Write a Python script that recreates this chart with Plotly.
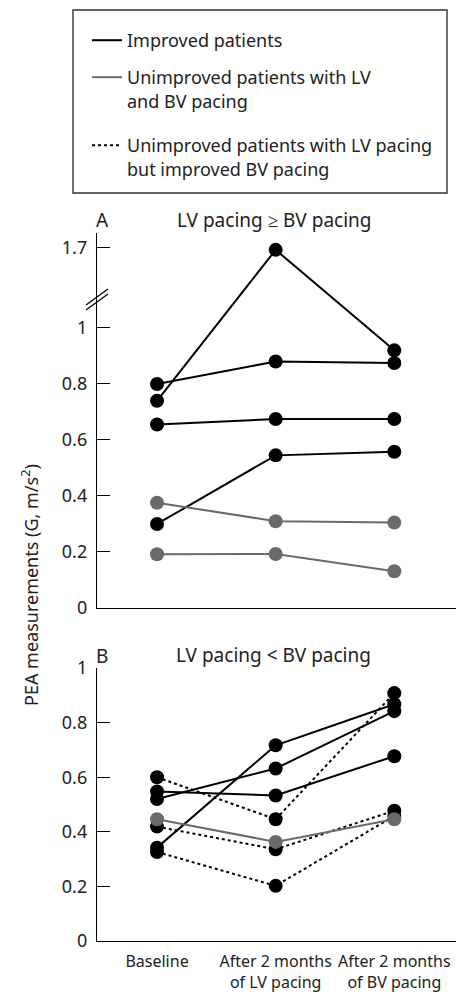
import plotly.graph_objects as go

# ---------------- data ----------------
categories = ["Baseline", "After 2 months<br>of LV pacing", "After 2 months<br>of BV pacing"]
x_pos = [0, 1, 2]

# Panel A: LV pacing >= BV pacing
a_improved = [
    [0.74, 1.68, 0.92],
    [0.80, 0.88, 0.875],
    [0.655, 0.675, 0.675],
    [0.30, 0.545, 0.558],
]
a_unimproved = [
    [0.376, 0.31, 0.305],
    [0.192, 0.193, 0.131],
]

# Panel B: LV pacing < BV pacing
b_improved = [
    [0.342, 0.717, 0.867],
    [0.52, 0.632, 0.842],
    [0.548, 0.533, 0.677],
]
b_mixed = [
    [0.60, 0.446, 0.908],
    [0.419, 0.336, 0.477],
    [0.326, 0.202, 0.458],
]
b_unimproved = [
    [0.446, 0.363, 0.446],
]

a_ticks = [0, 0.2, 0.4, 0.6, 0.8, 1, 1.7]
a_ticktext = ["0", "0.2", "0.4", "0.6", "0.8", "1", "1.7"]
b_ticks = [0, 0.2, 0.4, 0.6, 0.8, 1]
b_ticktext = ["0", "0.2", "0.4", "0.6", "0.8", "1"]

legend_names = [
    "Improved patients",
    "Unimproved patients with LV<br>and BV pacing",
    "Unimproved patients with LV pacing<br>but improved BV pacing",
]

# ---------------- styling ----------------
FONT = "Noto Sans"
TXT = "#222222"
BLACK = "#000000"
GRAY = "#6a6a6a"
FS = 18

# broken-axis scale for panel A (values above 1 are compressed)
BREAK_FACTOR = 0.41


def brk(v):
    return v if v <= 1 else 1 + (v - 1) * BREAK_FACTOR


W, H = 456, 992
ML = 97


def py(pix):
    return 1 - pix / H


def px(pix):
    return (pix - ML) / (W - ML)


fig = go.Figure()


def add_series(rows, xa, ya, color, dash, transform=lambda v: v):
    for r in rows:
        fig.add_trace(go.Scatter(
            x=x_pos, y=[transform(v) for v in r], xaxis=xa, yaxis=ya,
            mode="lines+markers",
            line=dict(color=color, width=2, dash=dash),
            marker=dict(color=color, size=14, line=dict(width=0)),
            showlegend=False, hoverinfo="skip",
        ))


add_series(a_improved, "x", "y", BLACK, "solid", brk)
add_series(a_unimproved, "x", "y", GRAY, "solid", brk)
add_series(b_improved, "x2", "y2", BLACK, "solid")
add_series(b_mixed, "x2", "y2", BLACK, "dot")
add_series(b_unimproved, "x2", "y2", GRAY, "solid")

# legend-only entries, each in its own legend box for exact placement
legend_ids = ["legend", "legend2", "legend3"]
legend_tops = [22, 59, 127]
for name, color, dash, lid in zip(legend_names, [BLACK, GRAY, BLACK],
                                  ["solid", "solid", "dot"], legend_ids):
    fig.add_trace(go.Scatter(
        x=[None], y=[None], mode="lines", name=name, legend=lid,
        line=dict(color=color, width=2, dash=dash), showlegend=True,
    ))

axis_common = dict(
    showline=True, linecolor=BLACK, linewidth=1.4, showgrid=False, zeroline=False,
)

legend_style = dict(
    xanchor="left", yanchor="top", borderwidth=0, bgcolor="rgba(0,0,0,0)",
    font=dict(family=FONT, size=FS, color=TXT), itemwidth=30, valign="top",
)

fig.update_layout(
    template="none",
    width=W, height=H,
    margin=dict(l=ML, r=0, t=0, b=0, autoexpand=False),
    paper_bgcolor="white", plot_bgcolor="white",
    font=dict(family=FONT, size=FS, color=TXT),
    xaxis=dict(domain=[0, 1], range=[-0.506, 2.52], anchor="y",
               showticklabels=False, ticks="", **axis_common),
    yaxis=dict(domain=[py(608), py(233)], range=[0, brk(1.0) + 0.339], anchor="x",
               tickvals=[brk(v) for v in a_ticks], ticktext=a_ticktext,
               ticks="inside", ticklen=13, tickwidth=1.4, tickcolor=BLACK,
               ticklabelstandoff=5, **axis_common),
    xaxis2=dict(domain=[0, 1], range=[-0.506, 2.52], anchor="y2",
                tickvals=x_pos, ticktext=categories, ticks="",
                tickfont=dict(size=16), ticklabelstandoff=6, **axis_common),
    yaxis2=dict(domain=[py(941), py(668)], range=[0, 1], anchor="x2",
                tickvals=b_ticks, ticktext=b_ticktext,
                ticks="inside", ticklen=13, tickwidth=1.4, tickcolor=BLACK,
                ticklabelstandoff=5, **axis_common),
    legend=dict(x=px(87), y=py(legend_tops[0]), **legend_style),
    legend2=dict(x=px(87), y=py(legend_tops[1]), **legend_style),
    legend3=dict(x=px(87), y=py(legend_tops[2]), **legend_style),
    showlegend=True,
)

# legend frame
fig.add_shape(type="rect", xref="paper", yref="paper",
              x0=px(73), x1=px(447), y0=py(193), y1=py(10),
              line=dict(color="#333333", width=1.4), layer="below")

# panel labels and titles
annos = [
    dict(text="A", x=px(102), y=py(220)),
    dict(text="LV pacing \u2265 BV pacing", x=px(274), y=py(220)),
    dict(text="B", x=px(102), y=py(656)),
    dict(text="LV pacing &lt; BV pacing", x=px(273), y=py(655)),
]
for a in annos:
    fig.add_annotation(xref="paper", yref="paper", showarrow=False,
                       xanchor="center", yanchor="middle",
                       font=dict(family=FONT, size=19, color=TXT), **a)

fig.add_annotation(
    text="PEA measurements (G, m/s<sup>2</sup>)", xref="paper", yref="paper",
    x=px(30), y=py(585), textangle=-90, showarrow=False,
    xanchor="center", yanchor="middle", font=dict(family=FONT, size=FS, color=TXT),
)

# axis break marks on panel A
for off in (0, 5):
    fig.add_shape(type="line", xref="paper", yref="paper",
                  x0=px(86), x1=px(108), y0=py(305 + off), y1=py(289 + off),
                  line=dict(color=BLACK, width=1.2))

fig.write_html("out.html")
